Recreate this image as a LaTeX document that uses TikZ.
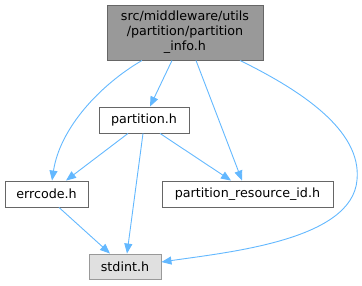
\documentclass[tikz,border=0pt]{standalone}
\usepackage{fontspec}
\setmainfont{DejaVu Sans}
\usetikzlibrary{arrows.meta}
\definecolor{edgeblue}{HTML}{63B8FF}
\definecolor{topfill}{HTML}{999999}
\definecolor{topdraw}{HTML}{666666}
\definecolor{sysfill}{HTML}{E0E0E0}
\definecolor{sysdraw}{HTML}{999999}
\begin{document}
\begin{tikzpicture}[x=1pt,y=-1pt,
  box/.style={draw=topdraw,fill=white,line width=0.9pt,inner sep=0pt,
    font=\fontsize{12.7}{15}\selectfont,align=center},
  topbox/.style={box,fill=topfill},
  sysbox/.style={box,fill=sysfill,draw=sysdraw},
  dep/.style={draw=edgeblue,line width=0.9pt,-{Triangle[length=10pt,width=8pt]}}]
\useasboundingbox (0,0) rectangle (362,285);
\node[topbox,minimum width=156pt,minimum height=55pt] (top) at (185,32.5)
  {src/middleware/utils\\/partition/partition\\\_info.h};
\node[box,minimum width=90pt,minimum height=26pt] (part) at (144,120) {partition.h};
\node[box,minimum width=83pt,minimum height=26pt] (err) at (46.5,194) {errcode.h};
\node[box,minimum width=171pt,minimum height=26pt] (prid) at (247.5,194) {partition\_resource\_id.h};
\node[sysbox,minimum width=72pt,minimum height=25pt] (std) at (125,266.5) {stdint.h};
% edges
\draw[dep] (top.south -| 142,0) .. controls (100,85) and (60,128) .. (err.north -| 52,0);
\draw[dep] (top.south -| 172,0) -- (part.north -| 150,0);
\draw[dep] (top.south -| 196,0) -- (prid.north -| 242,0);
\draw[dep] (top.south -| 240,0) .. controls (300,90) and (362,130) .. (357,180)
  .. controls (352,240) and (230,252) .. (std.east |- 0,262);
\draw[dep] (part.south -| 128,0) -- (err.north -| 66,0);
\draw[dep] (part.south -| 143,0) -- (std.north -| 127,0);
\draw[dep] (part.south -| 160,0) -- (prid.north -| 231,0);
\draw[dep] (err.south -| 59,0) -- (std.north -| 110,0);
\end{tikzpicture}
\end{document}
